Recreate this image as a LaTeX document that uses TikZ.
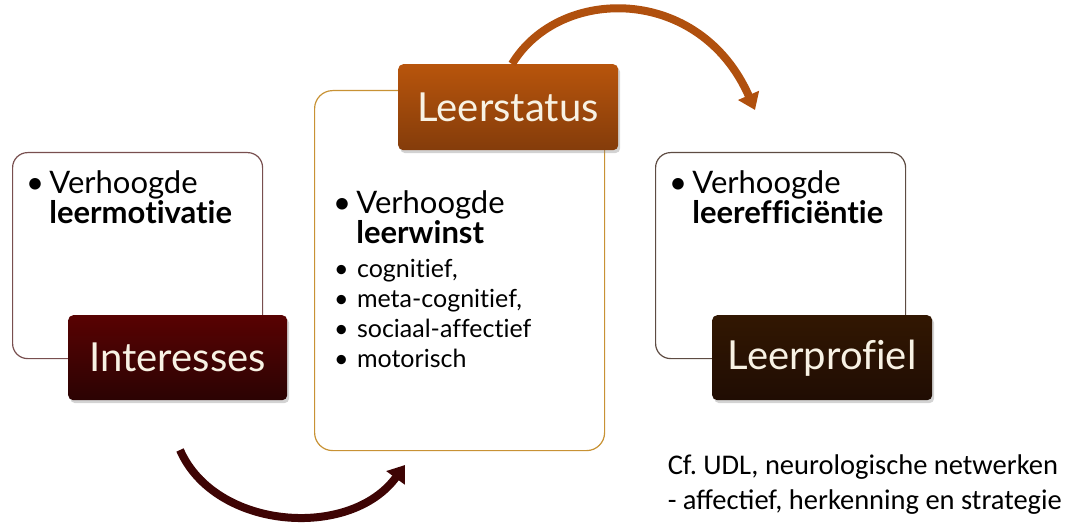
\documentclass[tikz,border=0pt]{standalone}
\usepackage{fontspec}
\setmainfont{Lato}[Ligatures=NoCommon]
\newfontfamily\notefont{Carlito}
\usetikzlibrary{arrows.meta,shadows}
\definecolor{maroon}{RGB}{62,4,4}
\definecolor{rust}{RGB}{176,80,14}
\definecolor{umber}{RGB}{40,16,4}
\definecolor{ochre}{RGB}{200,146,52}
\definecolor{ivory}{RGB}{248,242,228}

\begin{document}
\begin{tikzpicture}[x=1pt, y=-1pt,
    frame/.style={rectangle, draw, line width=1.2pt, fill=white,
                  rounded corners=15pt, anchor=north west},
    tag/.style={rectangle, rounded corners=5pt, anchor=north west,
                text=ivory, font=\fontsize{40}{44}\selectfont,
                drop shadow={opacity=0.35, shadow xshift=2pt, shadow yshift=-3pt}},
    txt/.style={anchor=north west, align=left, inner sep=0pt,
                font=\fontsize{31}{30}\selectfont},
    sub/.style={anchor=north west, align=left, inner sep=0pt,
                font=\fontsize{25}{30}\selectfont},
    arr/.style={-{Triangle[length=16pt, width=22pt]}, line width=8pt}
  ]
    \useasboundingbox (0,0) rectangle (1066,524);

    \node[frame, draw=maroon!70, minimum width=250pt, minimum height=206pt] (leftbox) at (12,152) {};
    \node[frame, draw=ochre, minimum width=290pt, minimum height=360pt, rounded corners=18pt] (midbox) at (314,90) {};
    \node[frame, draw=umber!75, minimum width=250pt, minimum height=206pt] (rightbox) at (655,152) {};

    \node[tag, top color=maroon!75!red!80!black, bottom color=maroon!70!black,
          minimum width=219pt, minimum height=85pt] (interesses) at (68,315) {Interesses};
    \node[tag, top color=rust!90!orange, bottom color=rust!75!black,
          minimum width=220pt, minimum height=86pt] (leerstatus) at (398,64) {Leerstatus};
    \node[tag, top color=umber!80!orange!60!black, bottom color=umber!80!black,
          minimum width=220pt, minimum height=85pt] (leerprofiel) at (712,315) {Leerprofiel};

    \node[txt] (motivatie) at (26,170) {\textbullet\,Verhoogde\\\phantom{\textbullet\,}\textbf{leermotivatie}};
    \node[txt] (winst) at (333,190) {\textbullet\,Verhoogde\\\phantom{\textbullet\,}\textbf{leerwinst}};
    \node[sub] (domeinen) at (334,259) {\textbullet\,\,cognitief,\\\textbullet\,\,meta-cognitief,\\
          \textbullet\,\,sociaal-affectief\\\textbullet\,\,motorisch};
    \node[txt] (efficientie) at (669,170) {\textbullet\,Verhoogde\\\phantom{\textbullet\,}\textbf{leerefficiëntie}};

    \node[anchor=north east, align=left, inner sep=0pt, font=\notefont\fontsize{28.5}{35}\selectfont]
          (note) at (1062,455) {Cf.\ UDL, neurologische netwerken\\- affectief, herkenning en strategie};

    \coordinate (lowstart) at (180,450);
    \coordinate (lowend) at (405,465);
    \coordinate (highstart) at (512,64);
    \coordinate (highend) at (755,110);
    \draw[arr, maroon] (lowstart) .. controls (215,530) and (350,540) .. (lowend);
    \draw[arr, rust] (highstart) .. controls (560,-15) and (700,-15) .. (highend);
  \end{tikzpicture}
\end{document}
